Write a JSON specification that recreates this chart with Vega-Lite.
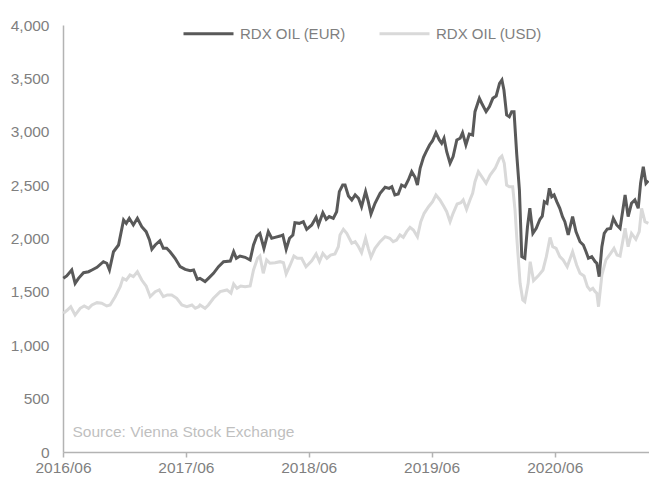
{
  "$schema": "https://vega.github.io/schema/vega-lite/v6.json",
  "width": 586,
  "height": 427,
  "autosize": {"type": "none"},
  "padding": {"left": 63, "top": 25, "right": 0, "bottom": 26},
  "background": "white",
  "config": {
    "view": {"stroke": null},
    "font": "Liberation Sans",
    "axis": {"grid": false, "labelFont": "Liberation Sans", "labelFontSize": 15.5, "labelColor": "#7f7f7f", "domainColor": "#b3b3b3", "tickColor": "#b3b3b3", "domainWidth": 1.5, "title": null},
    "legend": {"labelFont": "Liberation Sans", "labelFontSize": 15, "labelColor": "#7f7f7f"}
  },
  "datasets": {
    "eur": [
      {"d":"2016-06-02","v":1627},{"d":"2016-06-12","v":1649},{"d":"2016-06-27","v":1705},{"d":"2016-07-07","v":1580},{"d":"2016-07-17","v":1627},{"d":"2016-08-01","v":1680},{"d":"2016-08-16","v":1689},{"d":"2016-08-26","v":1705},{"d":"2016-09-10","v":1730},{"d":"2016-09-29","v":1783},{"d":"2016-10-09","v":1768},{"d":"2016-10-17","v":1705},{"d":"2016-10-29","v":1876},{"d":"2016-11-13","v":1939},{"d":"2016-11-28","v":2173},{"d":"2016-12-06","v":2142},{"d":"2016-12-15","v":2189},{"d":"2016-12-27","v":2127},
      {"d":"2017-01-08","v":2189},{"d":"2017-01-21","v":2111},{"d":"2017-02-03","v":2064},{"d":"2017-02-13","v":1986},{"d":"2017-02-20","v":1899},{"d":"2017-03-02","v":1939},{"d":"2017-03-16","v":1979},{"d":"2017-03-26","v":1908},{"d":"2017-04-05","v":1908},{"d":"2017-04-15","v":1876},{"d":"2017-04-30","v":1815},{"d":"2017-05-15","v":1736},{"d":"2017-05-30","v":1711},{"d":"2017-06-14","v":1698},{"d":"2017-06-24","v":1705},{"d":"2017-07-05","v":1618},{"d":"2017-07-13","v":1627},{"d":"2017-07-28","v":1596},{"d":"2017-08-07","v":1627},{"d":"2017-08-22","v":1674},{"d":"2017-09-06","v":1736},{"d":"2017-09-21","v":1783},{"d":"2017-10-11","v":1789},{"d":"2017-10-21","v":1876},{"d":"2017-10-29","v":1815},{"d":"2017-11-09","v":1836},{"d":"2017-11-24","v":1824},{"d":"2017-12-09","v":1799},{"d":"2017-12-19","v":1939},{"d":"2017-12-29","v":2023},
      {"d":"2018-01-07","v":2048},{"d":"2018-01-19","v":1908},{"d":"2018-02-01","v":2064},{"d":"2018-02-11","v":2002},{"d":"2018-02-21","v":2011},{"d":"2018-03-08","v":2023},{"d":"2018-03-16","v":2033},{"d":"2018-03-26","v":1899},{"d":"2018-04-05","v":2002},{"d":"2018-04-15","v":2033},{"d":"2018-04-21","v":2148},{"d":"2018-05-04","v":2142},{"d":"2018-05-16","v":2158},{"d":"2018-05-26","v":2086},{"d":"2018-06-10","v":2127},{"d":"2018-06-23","v":2199},{"d":"2018-06-30","v":2127},{"d":"2018-07-13","v":2242},{"d":"2018-07-23","v":2180},{"d":"2018-08-01","v":2205},{"d":"2018-08-13","v":2189},{"d":"2018-08-23","v":2251},{"d":"2018-08-31","v":2439},{"d":"2018-09-10","v":2501},{"d":"2018-09-17","v":2501},{"d":"2018-09-27","v":2398},{"d":"2018-10-07","v":2361},{"d":"2018-10-17","v":2408},{"d":"2018-10-27","v":2377},{"d":"2018-11-05","v":2298},{"d":"2018-11-17","v":2439},{"d":"2018-11-25","v":2345},{"d":"2018-12-03","v":2230},{"d":"2018-12-15","v":2330},{"d":"2018-12-30","v":2423},
      {"d":"2019-01-14","v":2480},{"d":"2019-01-26","v":2470},{"d":"2019-02-03","v":2485},{"d":"2019-02-12","v":2408},{"d":"2019-02-22","v":2417},{"d":"2019-03-04","v":2501},{"d":"2019-03-14","v":2485},{"d":"2019-03-24","v":2548},{"d":"2019-04-03","v":2626},{"d":"2019-04-13","v":2573},{"d":"2019-04-20","v":2501},{"d":"2019-04-28","v":2658},{"d":"2019-05-08","v":2761},{"d":"2019-05-16","v":2813},{"d":"2019-05-26","v":2876},{"d":"2019-06-04","v":2916},{"d":"2019-06-14","v":2991},{"d":"2019-06-24","v":2923},{"d":"2019-07-01","v":2892},{"d":"2019-07-08","v":2939},{"d":"2019-07-16","v":2813},{"d":"2019-07-26","v":2705},{"d":"2019-08-04","v":2767},{"d":"2019-08-15","v":2923},{"d":"2019-08-25","v":2939},{"d":"2019-09-01","v":2991},{"d":"2019-09-11","v":2876},{"d":"2019-09-21","v":2979},{"d":"2019-10-01","v":2970},{"d":"2019-10-08","v":3188},{"d":"2019-10-21","v":3313},{"d":"2019-10-28","v":3267},{"d":"2019-11-10","v":3188},{"d":"2019-11-20","v":3235},{"d":"2019-11-30","v":3313},{"d":"2019-12-10","v":3335},{"d":"2019-12-20","v":3454},{"d":"2019-12-27","v":3485},
      {"d":"2020-01-02","v":3391},{"d":"2020-01-10","v":3157},{"d":"2020-01-18","v":3141},{"d":"2020-01-25","v":3188},{"d":"2020-02-01","v":3188},{"d":"2020-02-09","v":2790},{"d":"2020-02-17","v":2454},{"d":"2020-02-24","v":1830},{"d":"2020-03-04","v":1815},{"d":"2020-03-12","v":2111},{"d":"2020-03-19","v":2283},{"d":"2020-03-28","v":2048},{"d":"2020-04-07","v":2095},{"d":"2020-04-18","v":2180},{"d":"2020-04-25","v":2210},{"d":"2020-05-01","v":2345},{"d":"2020-05-09","v":2330},{"d":"2020-05-16","v":2470},{"d":"2020-05-23","v":2392},{"d":"2020-05-30","v":2408},{"d":"2020-06-07","v":2345},{"d":"2020-06-16","v":2283},{"d":"2020-06-24","v":2205},{"d":"2020-07-01","v":2158},{"d":"2020-07-11","v":2033},{"d":"2020-07-24","v":2205},{"d":"2020-08-03","v":2064},{"d":"2020-08-15","v":1970},{"d":"2020-08-25","v":1939},{"d":"2020-09-02","v":1876},{"d":"2020-09-09","v":1815},{"d":"2020-09-19","v":1830},{"d":"2020-09-29","v":1783},{"d":"2020-10-04","v":1768},{"d":"2020-10-11","v":1642},{"d":"2020-10-19","v":1923},{"d":"2020-10-26","v":2048},{"d":"2020-11-04","v":2089},{"d":"2020-11-14","v":2095},{"d":"2020-11-22","v":2189},{"d":"2020-12-02","v":2127},{"d":"2020-12-12","v":2095},{"d":"2020-12-27","v":2408},
      {"d":"2021-01-05","v":2205},{"d":"2021-01-15","v":2330},{"d":"2021-01-25","v":2361},{"d":"2021-02-04","v":2283},{"d":"2021-02-11","v":2517},{"d":"2021-02-19","v":2673},{"d":"2021-02-27","v":2517},{"d":"2021-03-06","v":2542}
    ],
    "usd": [
      {"d":"2016-06-02","v":1299},{"d":"2016-06-14","v":1330},{"d":"2016-06-24","v":1361},{"d":"2016-07-07","v":1283},{"d":"2016-07-22","v":1346},{"d":"2016-08-03","v":1368},{"d":"2016-08-16","v":1346},{"d":"2016-08-26","v":1377},{"d":"2016-09-10","v":1399},{"d":"2016-09-24","v":1393},{"d":"2016-10-09","v":1368},{"d":"2016-10-19","v":1377},{"d":"2016-11-03","v":1455},{"d":"2016-11-18","v":1549},{"d":"2016-11-26","v":1627},{"d":"2016-12-06","v":1611},{"d":"2016-12-17","v":1658},{"d":"2016-12-27","v":1643},
      {"d":"2017-01-08","v":1689},{"d":"2017-01-21","v":1611},{"d":"2017-02-03","v":1555},{"d":"2017-02-15","v":1455},{"d":"2017-03-02","v":1502},{"d":"2017-03-14","v":1518},{"d":"2017-03-26","v":1455},{"d":"2017-04-07","v":1471},{"d":"2017-04-20","v":1471},{"d":"2017-05-05","v":1440},{"d":"2017-05-20","v":1377},{"d":"2017-06-04","v":1361},{"d":"2017-06-19","v":1377},{"d":"2017-06-29","v":1346},{"d":"2017-07-09","v":1361},{"d":"2017-07-13","v":1377},{"d":"2017-07-28","v":1346},{"d":"2017-08-07","v":1377},{"d":"2017-08-22","v":1440},{"d":"2017-09-11","v":1502},{"d":"2017-10-01","v":1518},{"d":"2017-10-13","v":1487},{"d":"2017-10-21","v":1574},{"d":"2017-10-31","v":1533},{"d":"2017-11-11","v":1555},{"d":"2017-11-24","v":1549},{"d":"2017-12-09","v":1555},{"d":"2017-12-19","v":1705},{"d":"2017-12-31","v":1815},
      {"d":"2018-01-07","v":1836},{"d":"2018-01-17","v":1674},{"d":"2018-01-27","v":1799},{"d":"2018-02-06","v":1768},{"d":"2018-02-21","v":1773},{"d":"2018-03-08","v":1783},{"d":"2018-03-18","v":1773},{"d":"2018-03-26","v":1668},{"d":"2018-04-07","v":1752},{"d":"2018-04-18","v":1836},{"d":"2018-04-28","v":1815},{"d":"2018-05-11","v":1815},{"d":"2018-05-24","v":1736},{"d":"2018-06-10","v":1792},{"d":"2018-06-23","v":1855},{"d":"2018-07-03","v":1783},{"d":"2018-07-13","v":1861},{"d":"2018-07-25","v":1815},{"d":"2018-08-05","v":1845},{"d":"2018-08-18","v":1855},{"d":"2018-08-28","v":1923},{"d":"2018-09-02","v":2033},{"d":"2018-09-12","v":2086},{"d":"2018-09-22","v":2048},{"d":"2018-10-07","v":1955},{"d":"2018-10-17","v":1970},{"d":"2018-10-27","v":1923},{"d":"2018-11-05","v":1867},{"d":"2018-11-17","v":2002},{"d":"2018-11-25","v":1908},{"d":"2018-12-03","v":1824},{"d":"2018-12-15","v":1908},{"d":"2018-12-30","v":1970},
      {"d":"2019-01-14","v":2017},{"d":"2019-01-28","v":2002},{"d":"2019-02-07","v":1970},{"d":"2019-02-17","v":1986},{"d":"2019-02-27","v":2033},{"d":"2019-03-09","v":2011},{"d":"2019-03-19","v":2064},{"d":"2019-03-29","v":2105},{"d":"2019-04-08","v":2080},{"d":"2019-04-20","v":2017},{"d":"2019-04-30","v":2158},{"d":"2019-05-10","v":2236},{"d":"2019-05-23","v":2298},{"d":"2019-06-04","v":2345},{"d":"2019-06-14","v":2408},{"d":"2019-06-26","v":2361},{"d":"2019-07-08","v":2298},{"d":"2019-07-16","v":2251},{"d":"2019-07-26","v":2158},{"d":"2019-08-04","v":2236},{"d":"2019-08-16","v":2323},{"d":"2019-08-27","v":2335},{"d":"2019-09-03","v":2361},{"d":"2019-09-13","v":2273},{"d":"2019-09-23","v":2361},{"d":"2019-10-01","v":2423},{"d":"2019-10-08","v":2532},{"d":"2019-10-18","v":2626},{"d":"2019-10-28","v":2579},{"d":"2019-11-10","v":2517},{"d":"2019-11-22","v":2595},{"d":"2019-12-07","v":2658},{"d":"2019-12-20","v":2751},{"d":"2019-12-27","v":2773},
      {"d":"2020-01-03","v":2705},{"d":"2020-01-10","v":2501},{"d":"2020-01-18","v":2485},{"d":"2020-01-28","v":2485},{"d":"2020-02-04","v":2267},{"d":"2020-02-09","v":2017},{"d":"2020-02-19","v":1580},{"d":"2020-02-27","v":1424},{"d":"2020-03-04","v":1408},{"d":"2020-03-14","v":1580},{"d":"2020-03-20","v":1783},{"d":"2020-03-30","v":1605},{"d":"2020-04-13","v":1650},{"d":"2020-04-27","v":1705},{"d":"2020-05-07","v":1830},{"d":"2020-05-18","v":2010},{"d":"2020-05-26","v":1923},{"d":"2020-06-05","v":1908},{"d":"2020-06-16","v":1830},{"d":"2020-06-26","v":1799},{"d":"2020-07-08","v":1736},{"d":"2020-07-24","v":1876},{"d":"2020-08-05","v":1752},{"d":"2020-08-15","v":1674},{"d":"2020-08-27","v":1649},{"d":"2020-09-06","v":1549},{"d":"2020-09-14","v":1518},{"d":"2020-09-22","v":1533},{"d":"2020-09-29","v":1502},{"d":"2020-10-04","v":1487},{"d":"2020-10-09","v":1361},{"d":"2020-10-19","v":1658},{"d":"2020-10-31","v":1799},{"d":"2020-11-14","v":1861},{"d":"2020-11-24","v":1908},{"d":"2020-12-03","v":1845},{"d":"2020-12-12","v":1836},{"d":"2020-12-27","v":2095},
      {"d":"2021-01-05","v":1923},{"d":"2021-01-15","v":2048},{"d":"2021-01-28","v":1992},{"d":"2021-02-07","v":2064},{"d":"2021-02-14","v":2283},{"d":"2021-02-24","v":2158},{"d":"2021-03-06","v":2142}
    ]
  },
  "layer": [
    {
      "data": {"name": "usd"},
      "transform": [{"calculate": "'RDX OIL (USD)'", "as": "s"}],
      "mark": {"type": "line", "strokeWidth": 3},
      "encoding": {
        "x": {
          "field": "d", "type": "temporal",
          "scale": {"type": "utc", "domain": [{"year": 2016, "month": 6, "date": 1, "utc": true}, {"year": 2021, "month": 3, "date": 8, "utc": true}]},
          "axis": {
            "values": [{"year": 2016, "month": 6, "date": 1, "utc": true}, {"year": 2017, "month": 6, "date": 1, "utc": true}, {"year": 2018, "month": 6, "date": 1, "utc": true}, {"year": 2019, "month": 6, "date": 1, "utc": true}, {"year": 2020, "month": 6, "date": 1, "utc": true}],
            "format": "%Y/%m", "tickSize": 5, "tickWidth": 1.5, "labelPadding": 3, "labelFlush": false, "labelOverlap": false
          }
        },
        "y": {
          "field": "v", "type": "quantitative",
          "scale": {"domain": [0, 4000], "nice": false, "zero": true},
          "axis": {"values": [0, 500, 1000, 1500, 2000, 2500, 3000, 3500, 4000], "format": ",.0f", "ticks": false, "labelPadding": 14}
        },
        "color": {
          "field": "s", "type": "nominal",
          "scale": {"domain": ["RDX OIL (EUR)", "RDX OIL (USD)"], "range": ["#595959", "#d9d9d9"]},
          "legend": {"orient": "none", "direction": "horizontal", "legendX": 119, "legendY": -18, "title": null, "symbolType": "stroke", "symbolSize": 2500, "symbolStrokeWidth": 3, "labelOffset": 5, "columnPadding": 27, "padding": 0}
        }
      }
    },
    {
      "data": {"name": "eur"},
      "transform": [{"calculate": "'RDX OIL (EUR)'", "as": "s"}],
      "mark": {"type": "line", "strokeWidth": 3},
      "encoding": {
        "x": {"field": "d", "type": "temporal"},
        "y": {"field": "v", "type": "quantitative"},
        "color": {"field": "s", "type": "nominal"}
      }
    },
    {
      "data": {"values": [{"label": "Source: Vienna Stock Exchange"}]},
      "mark": {"type": "text", "align": "left", "baseline": "middle", "fontSize": 15.5, "fill": "#bfbfbf", "font": "Liberation Sans"},
      "encoding": {
        "x": {"datum": 1467158400000, "type": "temporal"},
        "y": {"datum": 190, "type": "quantitative"},
        "text": {"field": "label", "type": "nominal"}
      }
    }
  ]
}
